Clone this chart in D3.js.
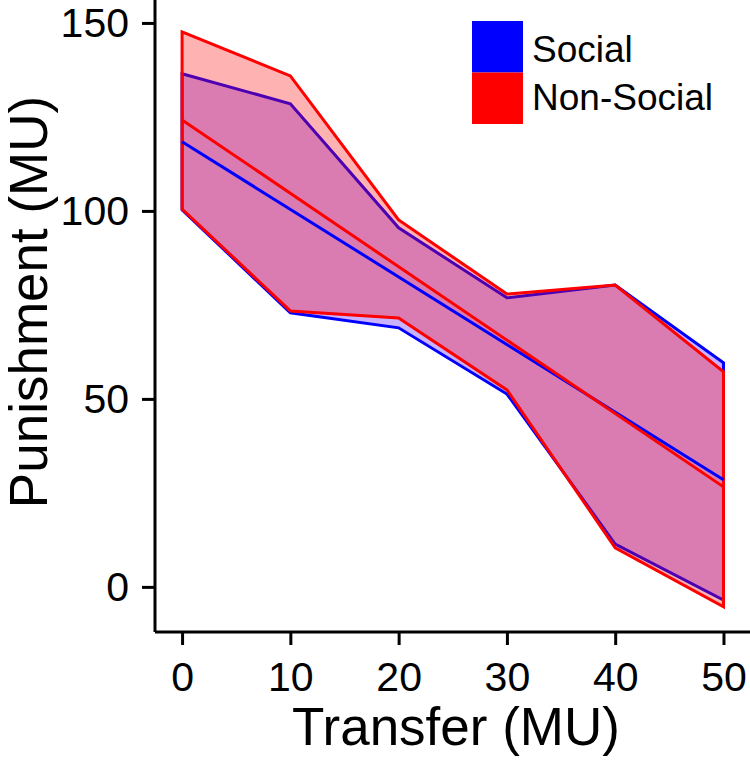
<!DOCTYPE html>
<html>
<head>
<meta charset="utf-8">
<script src="https://cdn.jsdelivr.net/npm/d3@7"></script>
<style>
  body { margin: 0; background: #fff; }
  svg { font-family: "Liberation Sans", Arial, sans-serif; }
</style>
</head>
<body>
<div id="chart"></div>
<script>
var transfers = [0, 10, 20, 30, 40, 50];

var socialUpper = [136.5, 128.5, 95.5, 76.9, 80.3, 59.6];
var socialLower = [100.3, 72.9, 68.9, 51.3, 11.4, -3.5];
var nonSocialUpper = [147.6, 135.9, 97.6, 77.9, 80.3, 57.2];
var nonSocialLower = [100.5, 73.4, 71.5, 52.4, 10.4, -5.3];

// fitted lines, read at both ends
var fitX = [0, 50];
var socialFit = [118.4, 28.5];
var nonSocialFit = [124.2, 26.6];

var xTicks = [0, 10, 20, 30, 40, 50];
var yTicks = [0, 50, 100, 150];

var groups = ['Social', 'Non-Social'];
var colors = ['#0000ff', '#ff0000'];
// band fills (blue one tinted so the overlap comes out pink like the original)
var fills = ['#5000ff', '#ff0000'];

var width = 750, height = 761,
    margin = {top: 0, right: 0, bottom: 129, left: 155};

var svg = d3.select('#chart').append('svg')
    .attr('width', width)
    .attr('height', height);

var x = d3.scaleLinear().domain([-2.5, 52.45]).range([margin.left, width - margin.right]),
    y = d3.scaleLinear().domain([-12, 156.1]).range([height - margin.bottom, margin.top]);

var ribbon = function(up, lo) {
    var pts = transfers.map(function(t, i) { return [x(t), y(up[i])]; });
    for (var i = transfers.length - 1; i >= 0; i--) {
        pts.push([x(transfers[i]), y(lo[i])]);
    }
    return 'M' + pts.join('L') + 'Z';
};

var bands = [[socialUpper, socialLower], [nonSocialUpper, nonSocialLower]];
var fits = [socialFit, nonSocialFit];

bands.forEach(function(b, i) {
    svg.append('path')
        .attr('d', ribbon(b[0], b[1]))
        .attr('fill', fills[i])
        .attr('fill-opacity', 0.3)
        .attr('stroke', colors[i])
        .attr('stroke-width', 3)
        .attr('stroke-linejoin', 'miter');
});

var line = d3.line()
    .x(function(d) { return x(d[0]); })
    .y(function(d) { return y(d[1]); });

fits.forEach(function(f, i) {
    svg.append('path')
        .attr('d', line(fitX.map(function(t, j) { return [t, f[j]]; })))
        .attr('fill', 'none')
        .attr('stroke', colors[i])
        .attr('stroke-width', 3);
});

// axes
var xAxis = svg.append('g')
    .attr('transform', 'translate(0,' + (height - margin.bottom) + ')')
    .call(d3.axisBottom(x).tickValues(xTicks).tickSize(13).tickPadding(17));

var yAxis = svg.append('g')
    .attr('transform', 'translate(' + margin.left + ',0)')
    .call(d3.axisLeft(y).tickValues(yTicks).tickSize(13).tickPadding(13));

[xAxis, yAxis].forEach(function(a) {
    a.select('.domain').attr('stroke', '#000').attr('stroke-width', 3)
        .attr('d', function() {
            return a === xAxis ? 'M' + margin.left + ',0H' + width
                               : 'M0,' + margin.top + 'V' + (height - margin.bottom);
        });
    a.selectAll('.tick line').attr('stroke', '#000').attr('stroke-width', 3);
    a.selectAll('.tick text').attr('fill', '#000').style('font-size', '41px')
        .style('font-family', '"Liberation Sans", Arial, sans-serif');
});

svg.append('text')
    .attr('x', 456)
    .attr('y', 745)
    .attr('text-anchor', 'middle')
    .style('font-size', '53px')
    .text('Transfer (MU)');

svg.append('text')
    .attr('transform', 'translate(47,302) rotate(-90)')
    .attr('text-anchor', 'middle')
    .style('font-size', '53px')
    .text('Punishment (MU)');

// legend
var legend = svg.append('g').attr('transform', 'translate(472,21)');

groups.forEach(function(g, i) {
    legend.append('rect')
        .attr('x', 0)
        .attr('y', i * 51.5)
        .attr('width', 51)
        .attr('height', 51.5)
        .attr('fill', colors[i]);
    legend.append('text')
        .attr('x', 60)
        .attr('y', i * 48 + 41)
        .style('font-size', '37px')
        .text(g);
});
</script>
</body>
</html>
